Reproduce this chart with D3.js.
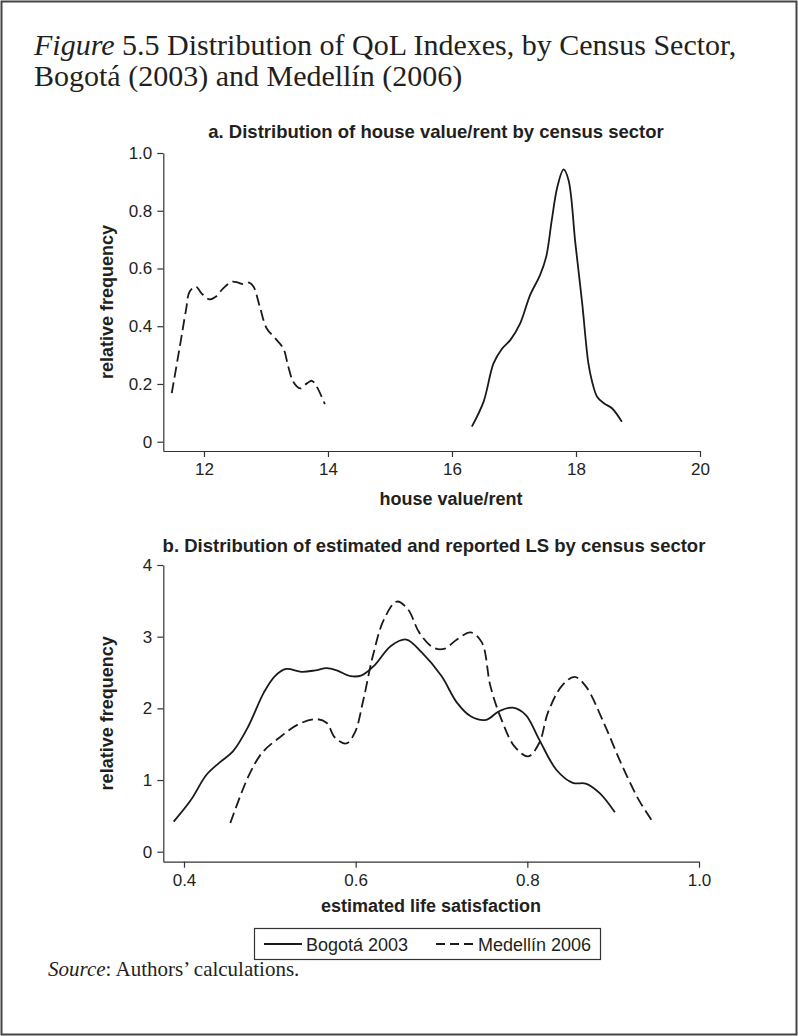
<!DOCTYPE html>
<html>
<head>
<meta charset="utf-8">
<script src="https://d3js.org/d3.v7.min.js"></script>
<style>
body { margin: 0; background: #fff; }
svg text { fill: #231f20; }
.axis text { font-family: "Liberation Sans", Arial, sans-serif; font-size: 17px; fill: #231f20; }
.axis path, .axis line { stroke: #333; stroke-width: 1.2; }
.sans { font-family: "Liberation Sans", Arial, sans-serif; }
.serif { font-family: "Liberation Serif", "Times New Roman", serif; }
</style>
</head>
<body>
<svg id="fig" width="798" height="1036"></svg>
<script>
// panel a: house value/rent
var houseMedX = [11.48, 11.61, 11.71, 11.77, 11.87, 11.96, 12.09, 12.19, 12.31, 12.45, 12.55, 12.63, 12.73,
                 12.80, 12.90, 13.01, 13.15, 13.28, 13.36, 13.44, 13.55, 13.66, 13.74, 13.82, 13.95];
var houseMedY = [0.168, 0.329, 0.456, 0.52, 0.537, 0.514, 0.493, 0.502, 0.531, 0.554, 0.551, 0.546, 0.551,
                 0.537, 0.468, 0.393, 0.358, 0.323, 0.26, 0.208, 0.185, 0.202, 0.211, 0.19, 0.13];
var houseBogX = [16.32, 16.51, 16.67, 16.81, 16.94, 17.10, 17.26, 17.42, 17.52, 17.61, 17.70, 17.80, 17.88,
                 17.99, 18.10, 18.20, 18.26, 18.34, 18.45, 18.58, 18.74];
var houseBogY = [0.052, 0.139, 0.271, 0.323, 0.352, 0.41, 0.508, 0.577, 0.641, 0.768, 0.883, 0.943, 0.906,
                 0.687, 0.479, 0.271, 0.208, 0.156, 0.133, 0.116, 0.069];

// panel b: life satisfaction
var lsBogX = [0.388, 0.408, 0.426, 0.441, 0.457, 0.475, 0.493, 0.506, 0.519, 0.537, 0.553, 0.566, 0.578, 0.594,
              0.607, 0.622, 0.641, 0.659, 0.677, 0.700, 0.718, 0.734, 0.752, 0.767, 0.783, 0.798, 0.814, 0.834,
              0.853, 0.868, 0.884, 0.902];
var lsBogY = [0.42, 0.72, 1.07, 1.24, 1.40, 1.75, 2.22, 2.45, 2.55, 2.51, 2.53, 2.56, 2.53, 2.45,
              2.46, 2.60, 2.87, 2.96, 2.78, 2.45, 2.08, 1.89, 1.84, 1.96, 2.01, 1.91, 1.56, 1.14,
              0.96, 0.95, 0.82, 0.55];
var lsMedX = [0.454, 0.475, 0.491, 0.511, 0.532, 0.553, 0.566, 0.576, 0.589, 0.599, 0.609, 0.620, 0.633, 0.648,
              0.661, 0.674, 0.690, 0.703, 0.718, 0.734, 0.747, 0.757, 0.770, 0.785, 0.801, 0.814, 0.824, 0.840,
              0.855, 0.868, 0.889, 0.909, 0.930, 0.946];
var lsMedY = [0.40, 1.05, 1.38, 1.59, 1.77, 1.85, 1.80, 1.59, 1.51, 1.66, 2.12, 2.73, 3.24, 3.49,
              3.38, 3.06, 2.85, 2.83, 2.96, 3.06, 2.92, 2.31, 1.84, 1.47, 1.33, 1.52, 1.94, 2.31,
              2.44, 2.31, 1.80, 1.24, 0.72, 0.42];

var houseTicks = [12, 14, 16, 18, 20];
var houseFreqTicks = [0, 0.2, 0.4, 0.6, 0.8, 1.0];
var lsTicks = [0.4, 0.6, 0.8, 1.0];
var lsFreqTicks = [0, 1, 2, 3, 4];
var seriesNames = ["Bogotá 2003", "Medellín 2006"];

var svg = d3.select("#fig");

svg.append("rect")
    .attr("x", 1.5).attr("y", 1.5)
    .attr("width", 795).attr("height", 1033)
    .attr("fill", "none")
    .attr("stroke", "#444")
    .attr("stroke-width", 2);

// figure title
var title = svg.append("text")
    .attr("class", "serif")
    .attr("x", 34).attr("y", 55)
    .style("font-size", "30px");
title.append("tspan").style("font-style", "italic").text("Figure");
title.append("tspan").text(" 5.5 Distribution of QoL Indexes, by Census Sector,");
svg.append("text")
    .attr("class", "serif")
    .attr("x", 34).attr("y", 86)
    .style("font-size", "30px")
    .text("Bogotá (2003) and Medellín (2006)");

var line = function(x, y) {
    return d3.line()
        .x(function(d) { return x(d[0]); })
        .y(function(d) { return y(d[1]); })
        .curve(d3.curveCatmullRom.alpha(0.5));
};

function panel(p) {
    var x = d3.scaleLinear().domain(p.xDomain).range([163.3, p.right]);
    var y = d3.scaleLinear().domain(p.yDomain).range([p.bottom, p.top]);
    var g = svg.append("g");

    g.append("g")
        .attr("class", "axis")
        .attr("transform", "translate(0," + p.bottom + ")")
        .call(d3.axisBottom(x)
              .tickValues(p.xTicks)
              .tickSize(6)
              .tickSizeOuter(0)
              .tickPadding(6)
              .tickFormat(p.xFormat));

    g.append("g")
        .attr("class", "axis")
        .attr("transform", "translate(163.3,0)")
        .call(d3.axisLeft(y)
              .tickValues(p.yTicks)
              .tickSize(6)
              .tickSizeOuter(0)
              .tickPadding(5)
              .tickFormat(p.yFormat));

    g.append("text")
        .attr("class", "sans")
        .attr("x", p.titleX).attr("y", p.titleY)
        .attr("text-anchor", "middle")
        .style("font-size", "18.5px")
        .style("font-weight", "bold")
        .text(p.title);

    g.append("text")
        .attr("class", "sans")
        .attr("x", p.xLabelX).attr("y", p.xLabelY)
        .attr("text-anchor", "middle")
        .style("font-size", "18px")
        .style("font-weight", "bold")
        .text(p.xLabel);

    g.append("text")
        .attr("class", "sans")
        .attr("transform", "translate(113," + (p.top + p.bottom) / 2 + ") rotate(-90)")
        .attr("text-anchor", "middle")
        .style("font-size", "18px")
        .style("font-weight", "bold")
        .text("relative frequency");

    g.append("path")
        .datum(d3.zip(p.bogX, p.bogY))
        .attr("fill", "none")
        .attr("stroke", "#1a1a1a")
        .attr("stroke-width", 1.8)
        .attr("d", line(x, y));

    g.append("path")
        .datum(d3.zip(p.medX, p.medY))
        .attr("fill", "none")
        .attr("stroke", "#1a1a1a")
        .attr("stroke-width", 1.8)
        .attr("stroke-dasharray", "11,5")
        .attr("d", line(x, y));
}

panel({
    xDomain: [11.344, 20], right: 700,
    yDomain: [-0.0322, 1], top: 153, bottom: 451,
    xTicks: houseTicks, yTicks: houseFreqTicks,
    xFormat: d3.format("d"),
    yFormat: function(d) { return d === 0 ? "0" : d3.format(".1f")(d); },
    title: "a. Distribution of house value/rent by census sector",
    titleX: 436, titleY: 138,
    xLabel: "house value/rent", xLabelX: 451, xLabelY: 505,
    bogX: houseBogX, bogY: houseBogY, medX: houseMedX, medY: houseMedY
});

panel({
    xDomain: [0.3759, 1.0], right: 699,
    yDomain: [-0.1395, 4], top: 565, bottom: 861.7,
    xTicks: lsTicks, yTicks: lsFreqTicks,
    xFormat: d3.format(".1f"),
    yFormat: d3.format("d"),
    title: "b. Distribution of estimated and reported LS by census sector",
    titleX: 434, titleY: 552,
    xLabel: "estimated life satisfaction", xLabelX: 431, xLabelY: 912,
    bogX: lsBogX, bogY: lsBogY, medX: lsMedX, medY: lsMedY
});

// legend
var legend = svg.append("g").attr("class", "sans");
legend.append("rect")
    .attr("x", 254.5).attr("y", 928.5)
    .attr("width", 346).attr("height", 31)
    .attr("fill", "#fff")
    .attr("stroke", "#333")
    .attr("stroke-width", 1.2);

var legendItems = legend.selectAll("g.item")
    .data(seriesNames)
    .enter().append("g")
    .attr("class", "item")
    .attr("transform", function(d, i) { return "translate(" + (i === 0 ? 264 : 436) + ",944)"; });

legendItems.append("line")
    .attr("x1", 0).attr("x2", 38)
    .attr("stroke", "#1a1a1a")
    .attr("stroke-width", 1.8)
    .attr("stroke-dasharray", function(d, i) { return i === 0 ? null : "9,5"; });

legendItems.append("text")
    .attr("x", 42).attr("y", 6.5)
    .style("font-size", "18px")
    .text(function(d) { return d; });

// source
var source = svg.append("text")
    .attr("class", "serif")
    .attr("x", 48).attr("y", 976)
    .style("font-size", "21px");
source.append("tspan").style("font-style", "italic").text("Source");
source.append("tspan").text(": Authors’ calculations.");
</script>
</body>
</html>
